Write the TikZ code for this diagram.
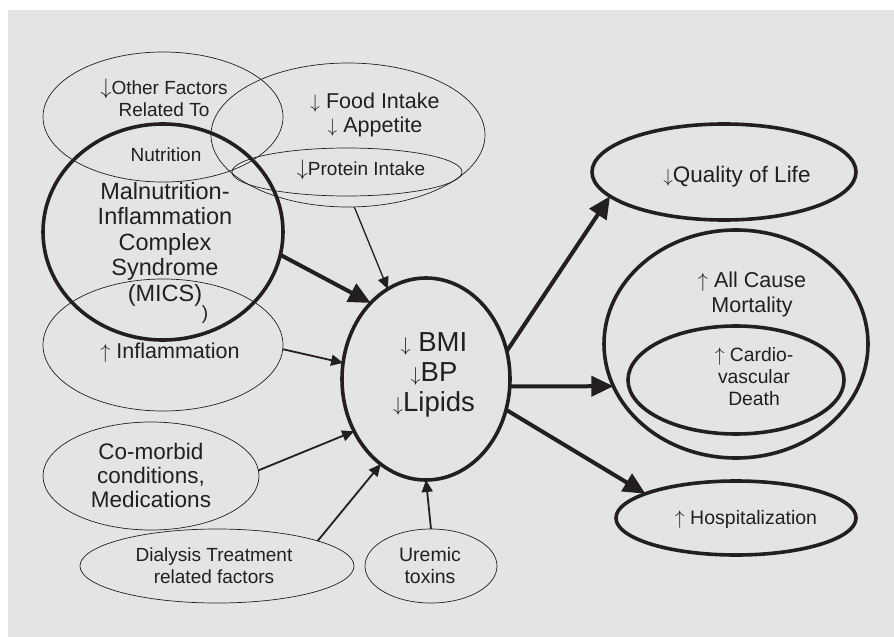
\documentclass[tikz,border=0pt]{standalone}
\usepackage{fontspec}
\usepackage{graphicx}
\setmainfont{Liberation Sans}
\usetikzlibrary{shapes.geometric,arrows.meta}
\definecolor{bg}{RGB}{227,228,230}
\definecolor{ink}{RGB}{35,31,32}
\newcommand\dnar[1][0.9em]{\resizebox*{!}{#1}{$\downarrow$}}
\newcommand\upar[1][0.9em]{\resizebox*{!}{#1}{$\uparrow$}}
\begin{document}
\begin{tikzpicture}[x=1pt,y=-1pt,
  ell/.style={ellipse,draw=ink,inner sep=0pt,outer sep=0pt},
  thinell/.style={ell,line width=0.7pt},
  thickell/.style={ell,line width=3.6pt},
  txt/.style={text=ink,align=center,inner sep=0pt},
  thinarr/.style={draw=ink,line width=1.8pt,-{Triangle[length=12pt,width=11pt]}},
  thickarr/.style={draw=ink,line width=4pt,-{Triangle[length=22pt,width=20pt]}}]
\useasboundingbox (0,0) rectangle (894,637);
\fill[white] (0,0) rectangle (894,637);
\fill[bg] (8,10) rectangle (894,637);

% ellipses
\node[thinell,minimum width=240pt,minimum height=130pt] (other) at (163,117) {};
\node[thinell,minimum width=274pt,minimum height=144pt] (food) at (348,135) {};
\node[thinell,minimum width=230pt,minimum height=48pt] (protein) at (347,172) {};
\node[thickell,minimum width=240pt,minimum height=216pt] (mics) at (163,232) {};
\node[thinell,minimum width=240pt,minimum height=132pt] (infl) at (163,345) {};
\node[thinell,minimum width=216pt,minimum height=108pt] (comorb) at (151,476) {};
\node[thinell,minimum width=274pt,minimum height=74pt] (dial) at (217,566) {};
\node[thinell,minimum width=132pt,minimum height=74pt] (urem) at (431,566) {};
\node[thickell,minimum width=168pt,minimum height=202pt] (bmi) at (426,379) {};
\node[thickell,minimum width=264pt,minimum height=96pt] (qol) at (724,172) {};
\node[thickell,minimum width=264pt,minimum height=228pt] (mort) at (736,344) {};
\node[thickell,minimum width=216pt,minimum height=108pt] (cardio) at (736,380) {};
\node[thickell,minimum width=240pt,minimum height=74pt] (hosp) at (736,518) {};

% texts
\node[txt,font=\fontsize{19}{22}\selectfont] (tother) at (164,98) {\dnar[1.05em]Other Factors\\Related To};
\node[txt,font=\fontsize{19}{22}\selectfont] (tnutr) at (166,155) {Nutrition};
\node[txt,font=\fontsize{21.5}{24}\selectfont] (tfood) at (375,115) {\dnar[0.8em] Food Intake\\\dnar[0.8em] Appetite};
\node[txt,font=\fontsize{19}{22}\selectfont] (tprot) at (361,170) {\dnar[1.05em]Protein Intake};
\node[txt,font=\fontsize{23.5}{25.5}\selectfont] (tmics) at (165,244) {Malnutrition-\\Inflammation\\Complex\\Syndrome\\(MICS)};
\node[txt,font=\fontsize{19}{22}\selectfont] (tparen) at (205,315) {)};
\node[txt,font=\fontsize{21.5}{24}\selectfont] (tinfl) at (170,353) {\upar[0.83em] Inflammation};
\node[txt,font=\fontsize{22.5}{24}\selectfont] (tcomorb) at (151,475) {Co-morbid\\conditions,\\Medications};
\node[txt,font=\fontsize{19}{22}\selectfont] (tdial) at (214,566) {Dialysis Treatment\\related factors};
\node[txt,font=\fontsize{19.5}{22}\selectfont] (turem) at (430,566) {Uremic\\toxins};
\node[txt,font=\fontsize{27.5}{30}\selectfont] (tbmi) at (434,375) {\dnar[0.65em] BMI\\\dnar[0.65em]BP\\\dnar[0.65em]Lipids};
\node[txt,font=\fontsize{22.5}{25}\selectfont] (tqol) at (737,177) {\dnar[0.75em]Quality of Life};
\node[txt,font=\fontsize{21.5}{25}\selectfont] (tmort) at (752,294) {\upar[0.84em] All Cause\\Mortality};
\node[txt,font=\fontsize{19.3}{22}\selectfont] (tcardio) at (754,377) {\upar\ Cardio-\\vascular\\Death};
\node[txt,font=\fontsize{19.5}{22}\selectfont] (thosp) at (746,519) {\upar\ Hospitalization};

% connectors
\draw[thickarr] (mics.-11) -- (bmi.126);
\draw[thinarr,line width=1.3pt] (food.-85) -- (bmi.113);
\draw[thinarr] (infl.-2) -- (bmi.169);
\draw[thinarr] (comorb.3) -- (bmi.216.5);
\draw[thinarr] (dial.14) -- (bmi.242);
\draw[thinarr] (urem.north) -- (bmi.south);
\draw[thickarr] (bmi.19.5) -- (qol.192.6);
\draw[thickarr] (bmi.-5) -- (mort.199);
\draw[thickarr] (bmi.-21.3) -- (hosp.165.4);
\end{tikzpicture}
\end{document}
